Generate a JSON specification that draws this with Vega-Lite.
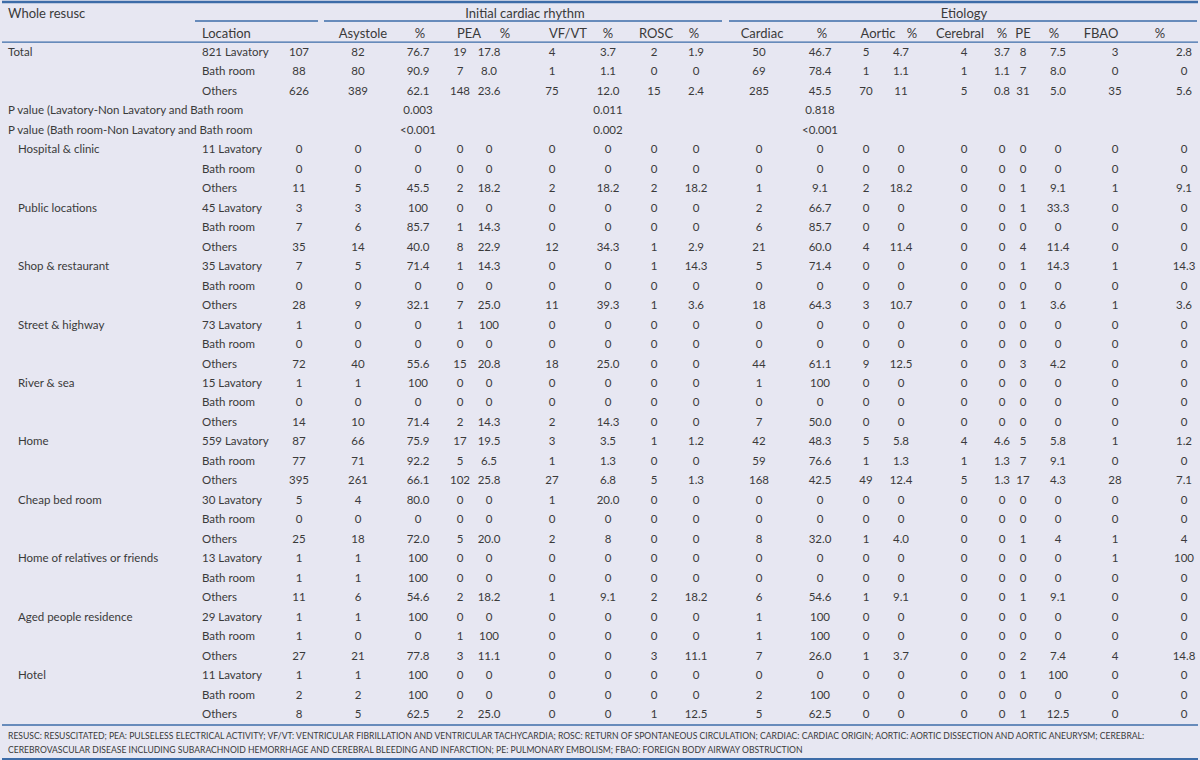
{
  "$schema": "https://vega.github.io/schema/vega-lite/v6.json",
  "width": 1200,
  "height": 760,
  "autosize": {"type": "fit", "contains": "padding"},
  "padding": 0,
  "background": "#e7e7f2",
  "config": {"view": {"stroke": null}, "text": {"font": "Lato", "color": "#3a3a3a", "baseline": "middle"}, "rule": {"color": "#3d6ca8"}},
  "datasets": {
    "cols": [
      {"col": "lab", "i": 0}, {"col": "grp", "i": 1}, {"col": "loc", "i": 2}, {"col": "N", "i": 3},
      {"col": "Asy", "i": 4}, {"col": "AsyP", "i": 5}, {"col": "PEA", "i": 6}, {"col": "PEAP", "i": 7},
      {"col": "VF", "i": 8}, {"col": "VFP", "i": 9}, {"col": "ROSC", "i": 10}, {"col": "ROSCP", "i": 11},
      {"col": "Card", "i": 12}, {"col": "CardP", "i": 13}, {"col": "Aort", "i": 14}, {"col": "AortP", "i": 15},
      {"col": "Cereb", "i": 16}, {"col": "CerebP", "i": 17}, {"col": "PE", "i": 18}, {"col": "PEP", "i": 19},
      {"col": "FBAO", "i": 20}, {"col": "FBAOP", "i": 21}
    ],
    "table": [
      {"n": 1, "lab": "Total", "loc": "821 Lavatory", "N": 107, "Asy": 82, "AsyP": 76.7, "PEA": 19, "PEAP": 17.8, "VF": 4, "VFP": 3.7, "ROSC": 2, "ROSCP": 1.9, "Card": 50, "CardP": 46.7, "Aort": 5, "AortP": 4.7, "Cereb": 4, "CerebP": 3.7, "PE": 8, "PEP": 7.5, "FBAO": 3, "FBAOP": 2.8},
      {"n": 2, "loc": "Bath room", "N": 88, "Asy": 80, "AsyP": 90.9, "PEA": 7, "PEAP": "8.0", "VF": 1, "VFP": 1.1, "ROSC": 0, "ROSCP": 0, "Card": 69, "CardP": 78.4, "Aort": 1, "AortP": 1.1, "Cereb": 1, "CerebP": 1.1, "PE": 7, "PEP": "8.0", "FBAO": 0, "FBAOP": 0},
      {"n": 3, "loc": "Others", "N": 626, "Asy": 389, "AsyP": 62.1, "PEA": 148, "PEAP": 23.6, "VF": 75, "VFP": "12.0", "ROSC": 15, "ROSCP": 2.4, "Card": 285, "CardP": 45.5, "Aort": 70, "AortP": 11, "Cereb": 5, "CerebP": 0.8, "PE": 31, "PEP": "5.0", "FBAO": 35, "FBAOP": 5.6},
      {"n": 4, "lab": "P value (Lavatory-Non Lavatory and Bath room", "AsyP": "0.003", "VFP": "0.011", "CardP": "0.818"},
      {"n": 5, "lab": "P value (Bath room-Non Lavatory and Bath room", "AsyP": "<0.001", "VFP": "0.002", "CardP": "<0.001"},
      {"n": 6, "grp": "Hospital & clinic", "loc": "11 Lavatory", "N": 0, "Asy": 0, "AsyP": 0, "PEA": 0, "PEAP": 0, "VF": 0, "VFP": 0, "ROSC": 0, "ROSCP": 0, "Card": 0, "CardP": 0, "Aort": 0, "AortP": 0, "Cereb": 0, "CerebP": 0, "PE": 0, "PEP": 0, "FBAO": 0, "FBAOP": 0},
      {"n": 7, "loc": "Bath room", "N": 0, "Asy": 0, "AsyP": 0, "PEA": 0, "PEAP": 0, "VF": 0, "VFP": 0, "ROSC": 0, "ROSCP": 0, "Card": 0, "CardP": 0, "Aort": 0, "AortP": 0, "Cereb": 0, "CerebP": 0, "PE": 0, "PEP": 0, "FBAO": 0, "FBAOP": 0},
      {"n": 8, "loc": "Others", "N": 11, "Asy": 5, "AsyP": 45.5, "PEA": 2, "PEAP": 18.2, "VF": 2, "VFP": 18.2, "ROSC": 2, "ROSCP": 18.2, "Card": 1, "CardP": 9.1, "Aort": 2, "AortP": 18.2, "Cereb": 0, "CerebP": 0, "PE": 1, "PEP": 9.1, "FBAO": 1, "FBAOP": 9.1},
      {"n": 9, "grp": "Public locations", "loc": "45 Lavatory", "N": 3, "Asy": 3, "AsyP": 100, "PEA": 0, "PEAP": 0, "VF": 0, "VFP": 0, "ROSC": 0, "ROSCP": 0, "Card": 2, "CardP": 66.7, "Aort": 0, "AortP": 0, "Cereb": 0, "CerebP": 0, "PE": 1, "PEP": 33.3, "FBAO": 0, "FBAOP": 0},
      {"n": 10, "loc": "Bath room", "N": 7, "Asy": 6, "AsyP": 85.7, "PEA": 1, "PEAP": 14.3, "VF": 0, "VFP": 0, "ROSC": 0, "ROSCP": 0, "Card": 6, "CardP": 85.7, "Aort": 0, "AortP": 0, "Cereb": 0, "CerebP": 0, "PE": 0, "PEP": 0, "FBAO": 0, "FBAOP": 0},
      {"n": 11, "loc": "Others", "N": 35, "Asy": 14, "AsyP": "40.0", "PEA": 8, "PEAP": 22.9, "VF": 12, "VFP": 34.3, "ROSC": 1, "ROSCP": 2.9, "Card": 21, "CardP": "60.0", "Aort": 4, "AortP": 11.4, "Cereb": 0, "CerebP": 0, "PE": 4, "PEP": 11.4, "FBAO": 0, "FBAOP": 0},
      {"n": 12, "grp": "Shop & restaurant", "loc": "35 Lavatory", "N": 7, "Asy": 5, "AsyP": 71.4, "PEA": 1, "PEAP": 14.3, "VF": 0, "VFP": 0, "ROSC": 1, "ROSCP": 14.3, "Card": 5, "CardP": 71.4, "Aort": 0, "AortP": 0, "Cereb": 0, "CerebP": 0, "PE": 1, "PEP": 14.3, "FBAO": 1, "FBAOP": 14.3},
      {"n": 13, "loc": "Bath room", "N": 0, "Asy": 0, "AsyP": 0, "PEA": 0, "PEAP": 0, "VF": 0, "VFP": 0, "ROSC": 0, "ROSCP": 0, "Card": 0, "CardP": 0, "Aort": 0, "AortP": 0, "Cereb": 0, "CerebP": 0, "PE": 0, "PEP": 0, "FBAO": 0, "FBAOP": 0},
      {"n": 14, "loc": "Others", "N": 28, "Asy": 9, "AsyP": 32.1, "PEA": 7, "PEAP": "25.0", "VF": 11, "VFP": 39.3, "ROSC": 1, "ROSCP": 3.6, "Card": 18, "CardP": 64.3, "Aort": 3, "AortP": 10.7, "Cereb": 0, "CerebP": 0, "PE": 1, "PEP": 3.6, "FBAO": 1, "FBAOP": 3.6},
      {"n": 15, "grp": "Street & highway", "loc": "73 Lavatory", "N": 1, "Asy": 0, "AsyP": 0, "PEA": 1, "PEAP": 100, "VF": 0, "VFP": 0, "ROSC": 0, "ROSCP": 0, "Card": 0, "CardP": 0, "Aort": 0, "AortP": 0, "Cereb": 0, "CerebP": 0, "PE": 0, "PEP": 0, "FBAO": 0, "FBAOP": 0},
      {"n": 16, "loc": "Bath room", "N": 0, "Asy": 0, "AsyP": 0, "PEA": 0, "PEAP": 0, "VF": 0, "VFP": 0, "ROSC": 0, "ROSCP": 0, "Card": 0, "CardP": 0, "Aort": 0, "AortP": 0, "Cereb": 0, "CerebP": 0, "PE": 0, "PEP": 0, "FBAO": 0, "FBAOP": 0},
      {"n": 17, "loc": "Others", "N": 72, "Asy": 40, "AsyP": 55.6, "PEA": 15, "PEAP": 20.8, "VF": 18, "VFP": "25.0", "ROSC": 0, "ROSCP": 0, "Card": 44, "CardP": 61.1, "Aort": 9, "AortP": 12.5, "Cereb": 0, "CerebP": 0, "PE": 3, "PEP": 4.2, "FBAO": 0, "FBAOP": 0},
      {"n": 18, "grp": "River & sea", "loc": "15 Lavatory", "N": 1, "Asy": 1, "AsyP": 100, "PEA": 0, "PEAP": 0, "VF": 0, "VFP": 0, "ROSC": 0, "ROSCP": 0, "Card": 1, "CardP": 100, "Aort": 0, "AortP": 0, "Cereb": 0, "CerebP": 0, "PE": 0, "PEP": 0, "FBAO": 0, "FBAOP": 0},
      {"n": 19, "loc": "Bath room", "N": 0, "Asy": 0, "AsyP": 0, "PEA": 0, "PEAP": 0, "VF": 0, "VFP": 0, "ROSC": 0, "ROSCP": 0, "Card": 0, "CardP": 0, "Aort": 0, "AortP": 0, "Cereb": 0, "CerebP": 0, "PE": 0, "PEP": 0, "FBAO": 0, "FBAOP": 0},
      {"n": 20, "loc": "Others", "N": 14, "Asy": 10, "AsyP": 71.4, "PEA": 2, "PEAP": 14.3, "VF": 2, "VFP": 14.3, "ROSC": 0, "ROSCP": 0, "Card": 7, "CardP": "50.0", "Aort": 0, "AortP": 0, "Cereb": 0, "CerebP": 0, "PE": 0, "PEP": 0, "FBAO": 0, "FBAOP": 0},
      {"n": 21, "grp": "Home", "loc": "559 Lavatory", "N": 87, "Asy": 66, "AsyP": 75.9, "PEA": 17, "PEAP": 19.5, "VF": 3, "VFP": 3.5, "ROSC": 1, "ROSCP": 1.2, "Card": 42, "CardP": 48.3, "Aort": 5, "AortP": 5.8, "Cereb": 4, "CerebP": 4.6, "PE": 5, "PEP": 5.8, "FBAO": 1, "FBAOP": 1.2},
      {"n": 22, "loc": "Bath room", "N": 77, "Asy": 71, "AsyP": 92.2, "PEA": 5, "PEAP": 6.5, "VF": 1, "VFP": 1.3, "ROSC": 0, "ROSCP": 0, "Card": 59, "CardP": 76.6, "Aort": 1, "AortP": 1.3, "Cereb": 1, "CerebP": 1.3, "PE": 7, "PEP": 9.1, "FBAO": 0, "FBAOP": 0},
      {"n": 23, "loc": "Others", "N": 395, "Asy": 261, "AsyP": 66.1, "PEA": 102, "PEAP": 25.8, "VF": 27, "VFP": 6.8, "ROSC": 5, "ROSCP": 1.3, "Card": 168, "CardP": 42.5, "Aort": 49, "AortP": 12.4, "Cereb": 5, "CerebP": 1.3, "PE": 17, "PEP": 4.3, "FBAO": 28, "FBAOP": 7.1},
      {"n": 24, "grp": "Cheap bed room", "loc": "30 Lavatory", "N": 5, "Asy": 4, "AsyP": "80.0", "PEA": 0, "PEAP": 0, "VF": 1, "VFP": "20.0", "ROSC": 0, "ROSCP": 0, "Card": 0, "CardP": 0, "Aort": 0, "AortP": 0, "Cereb": 0, "CerebP": 0, "PE": 0, "PEP": 0, "FBAO": 0, "FBAOP": 0},
      {"n": 25, "loc": "Bath room", "N": 0, "Asy": 0, "AsyP": 0, "PEA": 0, "PEAP": 0, "VF": 0, "VFP": 0, "ROSC": 0, "ROSCP": 0, "Card": 0, "CardP": 0, "Aort": 0, "AortP": 0, "Cereb": 0, "CerebP": 0, "PE": 0, "PEP": 0, "FBAO": 0, "FBAOP": 0},
      {"n": 26, "loc": "Others", "N": 25, "Asy": 18, "AsyP": "72.0", "PEA": 5, "PEAP": "20.0", "VF": 2, "VFP": 8, "ROSC": 0, "ROSCP": 0, "Card": 8, "CardP": "32.0", "Aort": 1, "AortP": "4.0", "Cereb": 0, "CerebP": 0, "PE": 1, "PEP": 4, "FBAO": 1, "FBAOP": 4},
      {"n": 27, "grp": "Home of relatives or friends", "loc": "13 Lavatory", "N": 1, "Asy": 1, "AsyP": 100, "PEA": 0, "PEAP": 0, "VF": 0, "VFP": 0, "ROSC": 0, "ROSCP": 0, "Card": 0, "CardP": 0, "Aort": 0, "AortP": 0, "Cereb": 0, "CerebP": 0, "PE": 0, "PEP": 0, "FBAO": 1, "FBAOP": 100},
      {"n": 28, "loc": "Bath room", "N": 1, "Asy": 1, "AsyP": 100, "PEA": 0, "PEAP": 0, "VF": 0, "VFP": 0, "ROSC": 0, "ROSCP": 0, "Card": 0, "CardP": 0, "Aort": 0, "AortP": 0, "Cereb": 0, "CerebP": 0, "PE": 0, "PEP": 0, "FBAO": 0, "FBAOP": 0},
      {"n": 29, "loc": "Others", "N": 11, "Asy": 6, "AsyP": 54.6, "PEA": 2, "PEAP": 18.2, "VF": 1, "VFP": 9.1, "ROSC": 2, "ROSCP": 18.2, "Card": 6, "CardP": 54.6, "Aort": 1, "AortP": 9.1, "Cereb": 0, "CerebP": 0, "PE": 1, "PEP": 9.1, "FBAO": 0, "FBAOP": 0},
      {"n": 30, "grp": "Aged people residence", "loc": "29 Lavatory", "N": 1, "Asy": 1, "AsyP": 100, "PEA": 0, "PEAP": 0, "VF": 0, "VFP": 0, "ROSC": 0, "ROSCP": 0, "Card": 1, "CardP": 100, "Aort": 0, "AortP": 0, "Cereb": 0, "CerebP": 0, "PE": 0, "PEP": 0, "FBAO": 0, "FBAOP": 0},
      {"n": 31, "loc": "Bath room", "N": 1, "Asy": 0, "AsyP": 0, "PEA": 1, "PEAP": 100, "VF": 0, "VFP": 0, "ROSC": 0, "ROSCP": 0, "Card": 1, "CardP": 100, "Aort": 0, "AortP": 0, "Cereb": 0, "CerebP": 0, "PE": 0, "PEP": 0, "FBAO": 0, "FBAOP": 0},
      {"n": 32, "loc": "Others", "N": 27, "Asy": 21, "AsyP": 77.8, "PEA": 3, "PEAP": 11.1, "VF": 0, "VFP": 0, "ROSC": 3, "ROSCP": 11.1, "Card": 7, "CardP": "26.0", "Aort": 1, "AortP": 3.7, "Cereb": 0, "CerebP": 0, "PE": 2, "PEP": 7.4, "FBAO": 4, "FBAOP": 14.8},
      {"n": 33, "grp": "Hotel", "loc": "11 Lavatory", "N": 1, "Asy": 1, "AsyP": 100, "PEA": 0, "PEAP": 0, "VF": 0, "VFP": 0, "ROSC": 0, "ROSCP": 0, "Card": 0, "CardP": 0, "Aort": 0, "AortP": 0, "Cereb": 0, "CerebP": 0, "PE": 1, "PEP": 100, "FBAO": 0, "FBAOP": 0},
      {"n": 34, "loc": "Bath room", "N": 2, "Asy": 2, "AsyP": 100, "PEA": 0, "PEAP": 0, "VF": 0, "VFP": 0, "ROSC": 0, "ROSCP": 0, "Card": 2, "CardP": 100, "Aort": 0, "AortP": 0, "Cereb": 0, "CerebP": 0, "PE": 0, "PEP": 0, "FBAO": 0, "FBAOP": 0},
      {"n": 35, "loc": "Others", "N": 8, "Asy": 5, "AsyP": 62.5, "PEA": 2, "PEAP": "25.0", "VF": 0, "VFP": 0, "ROSC": 1, "ROSCP": 12.5, "Card": 5, "CardP": 62.5, "Aort": 0, "AortP": 0, "Cereb": 0, "CerebP": 0, "PE": 1, "PEP": 12.5, "FBAO": 0, "FBAOP": 0}
    ],
    "head": [
      {"n": -1, "lab": "Whole resusc"},
      {"n": 0, "loc": "Location", "Asy": "Asystole", "AsyP": "%", "PEA": "PEA", "PEAP": "%", "VF": "VF/VT", "VFP": "%", "ROSC": "ROSC", "ROSCP": "%", "Card": "Cardiac", "CardP": "%", "Aort": "Aortic", "AortP": "%", "Cereb": "Cerebral", "CerebP": "%", "PE": "PE", "PEP": "%", "FBAO": "FBAO", "FBAOP": "%"}
    ],
    "spans": [
      {"title": "Initial cardiac rhythm", "from": "Asy", "to": "ROSCP"},
      {"title": "Etiology", "from": "Card", "to": "FBAOP"},
      {"title": "", "from": "loc", "to": "N"}
    ],
    "notes": [
      {"n": 36, "note": "RESUSC: RESUSCITATED; PEA: PULSELESS ELECTRICAL ACTIVITY; VF/VT: VENTRICULAR FIBRILLATION AND VENTRICULAR TACHYCARDIA; ROSC: RETURN OF SPONTANEOUS CIRCULATION; CARDIAC: CARDIAC ORIGIN; AORTIC: AORTIC DISSECTION AND AORTIC ANEURYSM; CEREBRAL:"},
      {"n": 37, "note": "CEREBROVASCULAR DISEASE INCLUDING SUBARACHNOID HEMORRHAGE AND CEREBRAL BLEEDING AND INFARCTION; PE: PULMONARY EMBOLISM; FBAO: FOREIGN BODY AIRWAY OBSTRUCTION"}
    ]
  },
  "resolve": {"scale": {"x": "independent", "y": "independent"}},
  "layer": [
    {
      "data": {"name": "table"},
      "transform": [
        {"fold": ["N", "Asy", "AsyP", "PEA", "PEAP", "VF", "VFP", "ROSC", "ROSCP", "Card", "CardP", "Aort", "AortP", "Cereb", "CerebP", "PE", "PEP", "FBAO", "FBAOP"], "as": ["col", "val"]},
        {"filter": "isValid(datum.val)"},
        {"lookup": "col", "from": {"data": {"name": "cols"}, "key": "col", "fields": ["i"]}}
      ],
      "mark": {"type": "text", "align": "center", "fontSize": 11.5},
      "encoding": {
        "x": {"field": "i", "type": "quantitative", "axis": null, "scale": {"domain": [3, 4, 5, 6, 7, 8, 9, 10, 11, 12, 13, 14, 15, 16, 17, 18, 19, 20, 21], "range": [297, 356, 416, 458, 487, 550, 606, 652, 694, 757, 818, 864, 899, 962, 1000, 1021, 1056, 1113, 1182], "zero": false, "nice": false}},
        "y": {"field": "n", "type": "quantitative", "axis": null, "scale": {"domain": [1, 35, 36, 37], "range": [52, 714, 735, 749], "zero": false, "nice": false}},
        "text": {"field": "val", "type": "nominal"}
      }
    },
    {
      "data": {"name": "table"},
      "transform": [
        {"fold": ["lab", "grp", "loc"], "as": ["col", "val"]},
        {"filter": "isValid(datum.val)"},
        {"lookup": "col", "from": {"data": {"name": "cols"}, "key": "col", "fields": ["i"]}}
      ],
      "mark": {"type": "text", "align": "left", "fontSize": 11.5},
      "encoding": {
        "x": {"field": "i", "type": "quantitative", "axis": null, "scale": {"domain": [0, 1, 2], "range": [6, 16, 200], "zero": false, "nice": false}},
        "y": {"field": "n", "type": "quantitative", "axis": null, "scale": {"domain": [1, 35, 36, 37], "range": [52, 714, 735, 749], "zero": false, "nice": false}},
        "text": {"field": "val", "type": "nominal"}
      }
    },
    {
      "data": {"name": "head"},
      "transform": [
        {"fold": ["Asy", "AsyP", "PEA", "PEAP", "VF", "VFP", "ROSC", "ROSCP", "Card", "CardP", "Aort", "AortP", "Cereb", "CerebP", "PE", "PEP", "FBAO", "FBAOP"], "as": ["col", "val"]},
        {"filter": "isValid(datum.val)"},
        {"lookup": "col", "from": {"data": {"name": "cols"}, "key": "col", "fields": ["i"]}}
      ],
      "mark": {"type": "text", "align": "center", "fontSize": 13},
      "encoding": {
        "x": {"field": "i", "type": "quantitative", "axis": null, "scale": {"domain": [4, 5, 6, 7, 8, 9, 10, 11, 12, 13, 14, 15, 16, 17, 18, 19, 20, 21], "range": [361, 418, 467, 503, 566, 606, 654, 692, 760, 820, 876, 910, 958, 1000, 1021, 1052, 1099, 1158], "zero": false, "nice": false}},
        "y": {"field": "n", "type": "quantitative", "axis": null, "scale": {"domain": [1, 35, 36, 37], "range": [52, 714, 735, 749], "zero": false, "nice": false}},
        "text": {"field": "val", "type": "nominal"}
      }
    },
    {
      "data": {"name": "head"},
      "transform": [
        {"fold": ["lab", "loc"], "as": ["col", "val"]},
        {"filter": "isValid(datum.val)"},
        {"lookup": "col", "from": {"data": {"name": "cols"}, "key": "col", "fields": ["i"]}}
      ],
      "mark": {"type": "text", "align": "left", "fontSize": 13},
      "encoding": {
        "x": {"field": "i", "type": "quantitative", "axis": null, "scale": {"domain": [0, 1, 2], "range": [6, 16, 200], "zero": false, "nice": false}},
        "y": {"field": "n", "type": "quantitative", "axis": null, "scale": {"domain": [1, 35, 36, 37], "range": [52, 714, 735, 749], "zero": false, "nice": false}},
        "text": {"field": "val", "type": "nominal"}
      }
    },
    {
      "data": {"name": "spans"},
      "transform": [{"filter": "datum.title != ''"}],
      "mark": {"type": "text", "align": "center", "fontSize": 13},
      "encoding": {
        "x": {"field": "title", "type": "nominal", "axis": null, "scale": {"type": "point", "domain": ["Initial cardiac rhythm", "Etiology"], "range": [523, 962], "padding": 0}},
        "y": {"datum": -1, "type": "quantitative", "axis": null, "scale": {"domain": [1, 35, 36, 37], "range": [52, 714, 735, 749], "zero": false, "nice": false}},
        "text": {"field": "title", "type": "nominal"}
      }
    },
    {
      "data": {"name": "spans"},
      "transform": [
        {"lookup": "from", "from": {"data": {"name": "cols"}, "key": "col", "fields": ["i"]}, "as": ["i1"]},
        {"lookup": "to", "from": {"data": {"name": "cols"}, "key": "col", "fields": ["i"]}, "as": ["i2"]}
      ],
      "mark": {"type": "rule", "strokeWidth": 1.5},
      "encoding": {
        "x": {"field": "i1", "type": "quantitative", "axis": null, "scale": {"domain": [2, 3, 4, 11, 12, 21], "range": [193, 316, 322, 720, 727, 1195], "zero": false, "nice": false}},
        "x2": {"field": "i2"},
        "y": {"datum": -0.64, "type": "quantitative", "axis": null, "scale": {"domain": [1, 35, 36, 37], "range": [52, 714, 735, 749], "zero": false, "nice": false}}
      }
    },
    {
      "data": {"name": "notes"},
      "mark": {"type": "text", "align": "left", "fontSize": 8.6},
      "encoding": {
        "x": {"datum": 0, "type": "quantitative", "axis": null, "scale": {"domain": [0, 1, 2], "range": [6, 16, 200], "zero": false, "nice": false}},
        "y": {"field": "n", "type": "quantitative", "axis": null, "scale": {"domain": [1, 35, 36, 37], "range": [52, 714, 735, 749], "zero": false, "nice": false}},
        "text": {"field": "note", "type": "nominal"}
      }
    },
    {
      "data": {"values": [{}]},
      "mark": {"type": "rule", "strokeWidth": 2.5},
      "encoding": {"y": {"datum": -1.62, "type": "quantitative", "axis": null, "scale": {"domain": [1, 35, 36, 37], "range": [52, 714, 735, 749], "zero": false, "nice": false}}}
    },
    {
      "data": {"values": [{}]},
      "mark": {"type": "rule", "strokeWidth": 1.2},
      "encoding": {"y": {"datum": 0.44, "type": "quantitative", "axis": null, "scale": {"domain": [1, 35, 36, 37], "range": [52, 714, 735, 749], "zero": false, "nice": false}}}
    },
    {
      "data": {"values": [{}]},
      "mark": {"type": "rule", "strokeWidth": 1.5},
      "encoding": {"y": {"datum": 35.48, "type": "quantitative", "axis": null, "scale": {"domain": [1, 35, 36, 37], "range": [52, 714, 735, 749], "zero": false, "nice": false}}}
    },
    {
      "data": {"values": [{}]},
      "mark": {"type": "rule", "strokeWidth": 2},
      "encoding": {"y": {"datum": 37.64, "type": "quantitative", "axis": null, "scale": {"domain": [1, 35, 36, 37], "range": [52, 714, 735, 749], "zero": false, "nice": false}}}
    }
  ]
}
